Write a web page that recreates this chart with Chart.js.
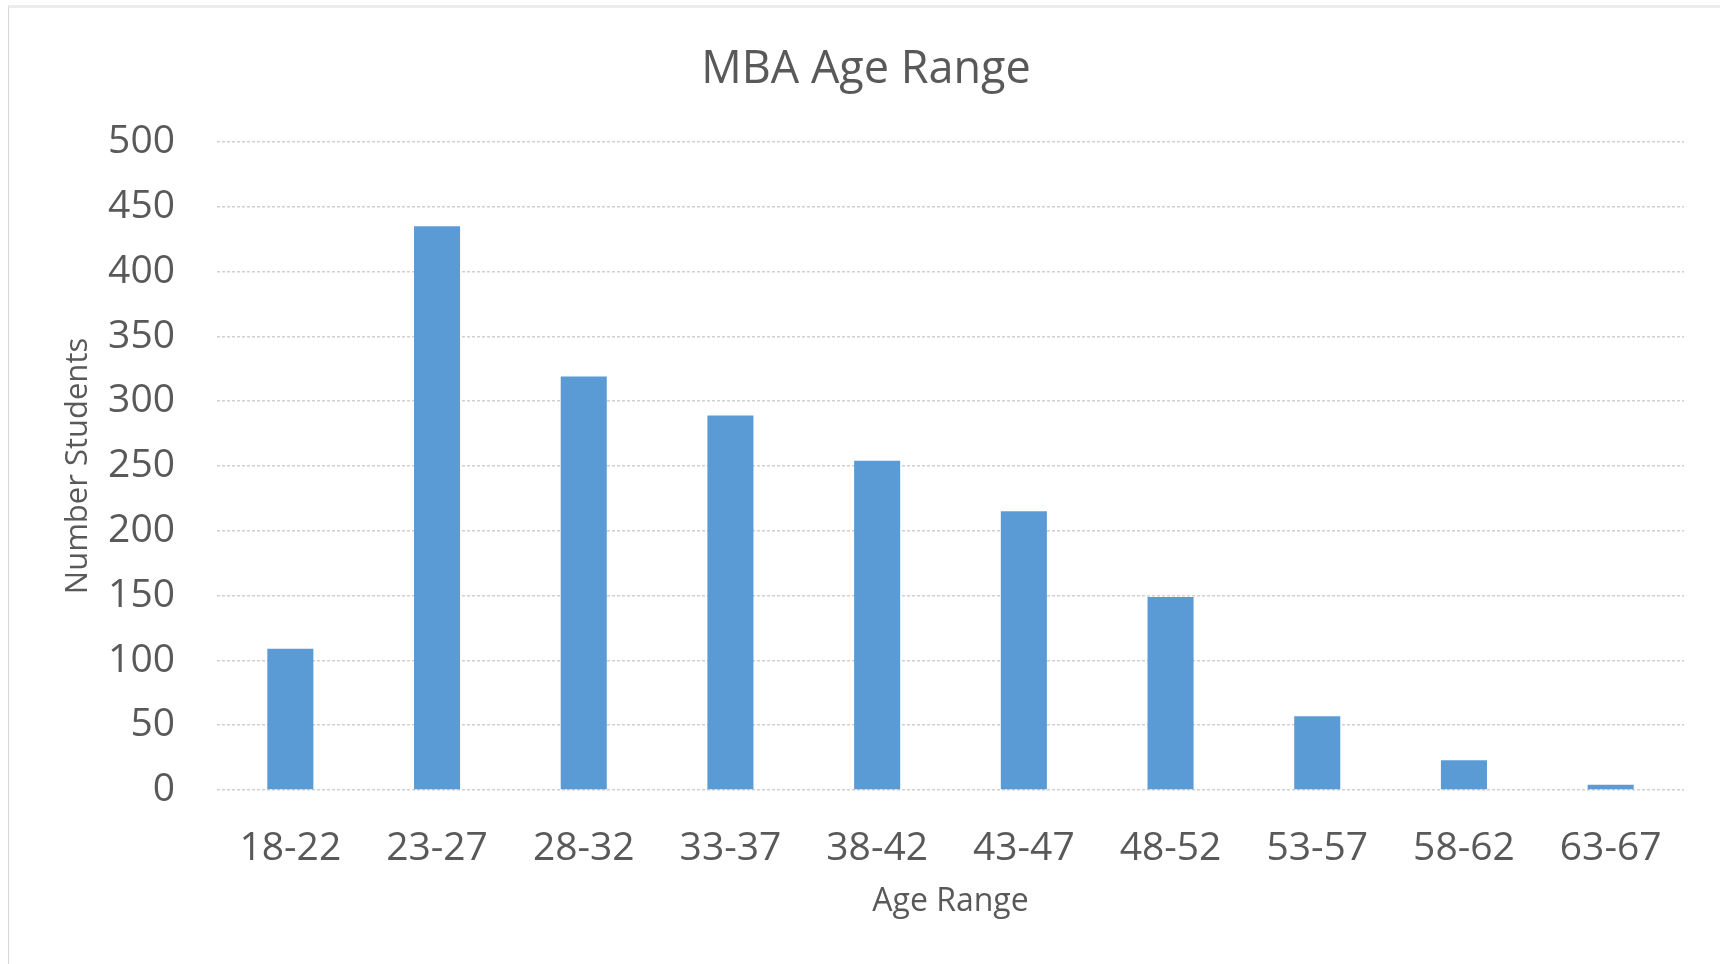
<!DOCTYPE html>
<html>
<head>
<meta charset="utf-8">
<title>MBA Age Range</title>
<script src="https://cdn.jsdelivr.net/npm/chart.js@4.4.1/dist/chart.umd.min.js"></script>
<style>
  body { margin: 0; background: #fff; }
  #wrap { position: absolute; left: 0; top: 0; width: 1720px; height: 964px; }
  #frame { position: absolute; left: 8px; top: 5px; right: 0; bottom: 0;
           border-left: 1px solid #d6d6d6; border-top: 3px solid #ececec; pointer-events: none; }
</style>
</head>
<body>
<div id="wrap">
  <canvas id="meuGrafico" width="1720" height="964"></canvas>
  <div id="frame"></div>
</div>
<script>
var faixas = ["18-22", "23-27", "28-32", "33-37", "38-42", "43-47", "48-52", "53-57", "58-62", "63-67"];
var alunos = [109, 435, 319, 289, 254, 215, 149, 57, 23, 4];
var ticksY = [0, 50, 100, 150, 200, 250, 300, 350, 400, 450, 500];

var cinza = "#595959";
var fonte = "'Open Sans', sans-serif";

new Chart("meuGrafico", {
  type: "bar",
  data: {
    labels: faixas,
    datasets: [{
      label: "Number Students",
      data: alunos,
      backgroundColor: "#5b9bd5",
      borderWidth: 0,
      categoryPercentage: 1,
      barPercentage: 0.314
    }]
  },
  options: {
    responsive: false,
    animation: false,
    // left padding shifts the title centre to the right like the original
    layout: { padding: { left: 48, right: 36, top: 0, bottom: 0 } },
    plugins: {
      legend: { display: false },
      tooltip: { enabled: false },
      title: {
        display: true,
        text: "MBA Age Range",
        color: cinza,
        font: { family: fonte, size: 45, weight: "normal" },
        padding: { top: 43, bottom: 45 }
      }
    },
    scales: {
      x: {
        grid: { display: false },
        border: { display: false },
        ticks: {
          color: cinza,
          font: { family: fonte, size: 39 },
          padding: 27,
          maxRotation: 0,
          autoSkip: false
        },
        title: {
          display: true,
          text: "Age Range",
          color: cinza,
          font: { family: fonte, size: 32 },
          padding: { top: 0, bottom: 43 }
        },
        afterFit: function (scale) { scale.height = 174; }
      },
      y: {
        min: 0,
        max: 500,
        afterBuildTicks: function (scale) {
          scale.ticks = ticksY.map(function (v) { return { value: v }; });
        },
        grid: {
          color: "#d0d0d0",
          lineWidth: 1.5,
          drawTicks: false
        },
        border: { display: false, dash: [3, 2] },
        ticks: {
          color: cinza,
          font: { family: fonte, size: 39 },
          padding: 42
        },
        title: {
          display: true,
          text: "Number Students",
          color: cinza,
          font: { family: fonte, size: 31 },
          padding: { top: 12, bottom: 0 }
        },
        afterFit: function (scale) { scale.width = 169; }
      }
    }
  }
});
</script>
</body>
</html>
